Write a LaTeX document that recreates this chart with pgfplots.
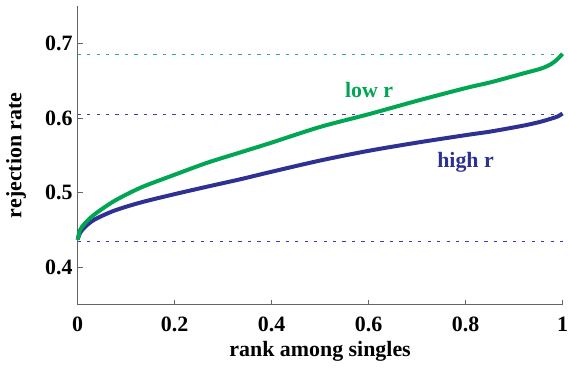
\documentclass[border=0pt]{standalone}
\usepackage{fontspec}
\setmainfont{Liberation Serif}
\usepackage{pgfplots}
\pgfplotsset{compat=1.18}
\definecolor{cgreen}{RGB}{0,166,81}
\definecolor{cblue}{RGB}{46,49,146}
\definecolor{cgreenl}{RGB}{50,180,110}
\definecolor{cbluel}{RGB}{60,65,165}
\definecolor{caxis}{RGB}{100,100,100}
\begin{document}
\begin{tikzpicture}
\begin{axis}[
  scale only axis, width=487pt, height=300pt,
  xmin=0, xmax=1, ymin=0.35, ymax=0.75,
  axis x line=bottom, axis y line=left,
  axis line style={-, caxis, line width=0.8pt},
  tick style={caxis, line width=0.8pt},
  tick align=inside, major tick length=5pt,
  xtick={0,0.2,0.4,0.6,0.8,1},
  ytick={0.4,0.5,0.6,0.7},
  font=\fontsize{22}{26}\selectfont\bfseries,
  /pgf/number format/assume math mode=true,
  yticklabel style={/pgf/number format/fixed, /pgf/number format/precision=1, inner sep=0pt, xshift=-5pt},
  xticklabel style={inner sep=0pt, anchor=north, yshift=-12pt},
  xlabel={rank among singles},
  ylabel={rejection rate},
  xlabel style={at={(axis description cs:0.5,-0.1233)}, anchor=north, inner sep=0pt},
  ylabel style={at={(axis description cs:-0.1478,0.5)}, anchor=north, inner sep=0pt},
  clip=false,
]
\addplot[cgreenl, line width=1pt, dash pattern=on 3.3pt off 6.2pt] coordinates {(0,0.6853) (1,0.6853)};
\addplot[cbluel, line width=1pt, dash pattern=on 3.3pt off 6.2pt] coordinates {(0,0.6053) (1,0.6053)};
\addplot[cbluel, line width=1pt, dash pattern=on 3.3pt off 6.2pt] coordinates {(0,0.435) (1,0.435)};
\addplot[cblue, line width=4pt, smooth] table {
x y
0 0.437
0.005 0.446
0.015 0.454
0.035 0.464
0.076 0.476
0.131 0.487
0.2 0.498
0.267 0.508
0.336 0.518
0.4 0.528
0.5 0.543
0.6 0.556
0.7 0.567
0.8 0.577
0.853 0.582
0.921 0.590
0.955 0.595
0.976 0.599
0.99 0.602
1 0.606
};
\addplot[cgreen, line width=4pt, smooth] table {
x y
0 0.437
0.005 0.450
0.015 0.459
0.035 0.471
0.076 0.489
0.131 0.507
0.2 0.524
0.267 0.540
0.336 0.554
0.4 0.567
0.5 0.588
0.6 0.605
0.7 0.623
0.8 0.640
0.853 0.648
0.921 0.660
0.955 0.666
0.976 0.672
0.99 0.679
1 0.686
};
\node[text=cgreen, inner sep=0pt] at (axis cs:0.601,0.637) {low r};
\node[text=cblue, inner sep=0pt] at (axis cs:0.80,0.541) {high r};
\path (rel axis cs:0,0) ++(-78pt,-77pt) rectangle ++(568pt,383pt);
\end{axis}
\end{tikzpicture}
\end{document}
